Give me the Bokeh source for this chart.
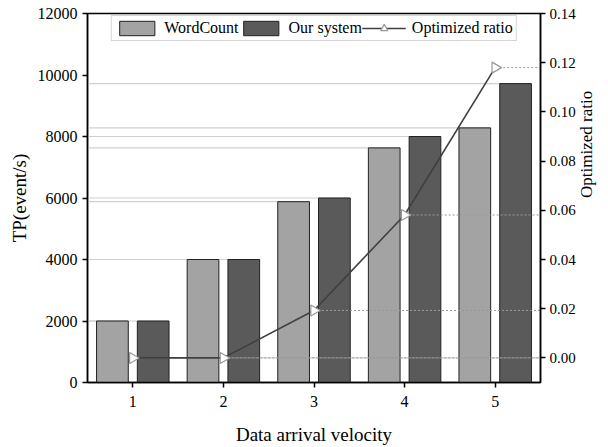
import numpy as np
from bokeh.plotting import figure
from bokeh.models import (Range1d, LinearAxis, FixedTicker, Legend, LegendItem,
                          PrintfTickFormatter)
from bokeh.embed import file_html
from bokeh.resources import INLINE

categories = [1, 2, 3, 4, 5]
wordcount = [2000, 4000, 5880, 7630, 8280]
our_system = [2000, 4000, 6000, 8000, 9720]
optimized_ratio = [0.0, 0.0, 0.0193, 0.0581, 0.118]

FONT = "Liberation Serif"
BAR_W = 0.35
OFF = 0.225

p = figure(width=608, height=447, output_backend="svg", toolbar_location=None,
           x_range=Range1d(0.5, 5.5), y_range=Range1d(0, 12000),
           min_border_left=87, min_border_right=61, min_border_top=13, min_border_bottom=64)
p.extra_y_ranges = {"ratio": Range1d(-0.01, 0.14)}
p.xgrid.visible = False
p.ygrid.visible = False
p.outline_line_color = "black"
p.outline_line_width = 1.5
p.background_fill_color = "white"
p.border_fill_color = "white"

xs = np.array(categories, dtype=float)
wc_x = xs - OFF
os_x = xs + OFF

# light gray reference lines from left axis to bar tops
p.segment(x0=[0.5] * 5, y0=wordcount, x1=list(wc_x + BAR_W / 2), y1=wordcount,
          line_color="#d0d0d0", line_width=1.2)
p.segment(x0=[0.5] * 5, y0=our_system, x1=list(os_x + BAR_W / 2), y1=our_system,
          line_color="#d0d0d0", line_width=1.2)

r_wc = p.vbar(x=list(wc_x), top=wordcount, width=BAR_W, fill_color="#a3a3a3",
              line_color="#222222", line_width=1)
r_os = p.vbar(x=list(os_x), top=our_system, width=BAR_W, fill_color="#5a5a5a",
              line_color="#222222", line_width=1)

# dotted drop lines to right axis
p.segment(x0=categories, y0=optimized_ratio, x1=[5.5] * 5, y1=optimized_ratio,
          line_color="#999999", line_dash="2 2", line_width=1, y_range_name="ratio")

r_line = p.line(categories, optimized_ratio, line_color="#404040", line_width=1.6,
                y_range_name="ratio")
r_mark = p.scatter(categories, optimized_ratio, marker="triangle", size=11,
                   angle=-np.pi / 2, fill_color="white", line_color="#999999",
                   line_width=1.2, y_range_name="ratio")

# axes
p.xaxis.ticker = FixedTicker(ticks=categories)
p.yaxis.ticker = FixedTicker(ticks=list(range(0, 12001, 2000)))
p.xaxis.axis_label = "Data arrival velocity"
p.yaxis.axis_label = "TP(event/s)"

right = LinearAxis(y_range_name="ratio", axis_label="Optimized ratio",
                   ticker=FixedTicker(ticks=[0.0, 0.02, 0.04, 0.06, 0.08, 0.10, 0.12, 0.14]))
right.formatter = PrintfTickFormatter(format="%.2f")
p.add_layout(right, "right")

for ax in [p.xaxis[0], p.yaxis[0], right]:
    ax.axis_line_color = "black"
    ax.axis_line_width = 1.5
    ax.major_tick_line_color = "black"
    ax.major_tick_line_width = 1.5
    ax.major_tick_in = 0
    ax.major_tick_out = 5
    ax.minor_tick_line_color = None
    ax.major_label_text_font = FONT
    ax.major_label_text_font_size = "16px"
    ax.major_label_text_color = "black"
    ax.axis_label_text_font = FONT
    ax.axis_label_text_font_size = "19px"
    ax.axis_label_text_font_style = "normal"
    ax.axis_label_text_color = "black"

p.xaxis.major_label_standoff = 8
p.xaxis.axis_label_standoff = 14
p.yaxis.axis_label_standoff = 5
right.major_label_standoff = 4
right.major_label_text_font_size = "15px"
right.axis_label_standoff = 8
right.axis_label_text_font_size = "17px"
try:
    right.axis_label_orientation = np.pi / 2
except Exception:
    pass

legend = Legend(items=[
    LegendItem(label="WordCount", renderers=[r_wc]),
    LegendItem(label="Our system", renderers=[r_os]),
    LegendItem(label="Optimized ratio", renderers=[r_line, r_mark]),
], orientation="horizontal", location="top_center")
legend.label_text_font = FONT
legend.label_text_font_size = "16px"
legend.label_text_color = "black"
legend.glyph_width = 44
legend.glyph_height = 18
legend.spacing = 0
legend.padding = 3
legend.margin = 2
legend.label_standoff = 6
legend.border_line_color = "#aaaaaa"
legend.border_line_width = 1
legend.background_fill_alpha = 1
p.add_layout(legend, "center")

open("out.html", "w").write(file_html(p, INLINE))
